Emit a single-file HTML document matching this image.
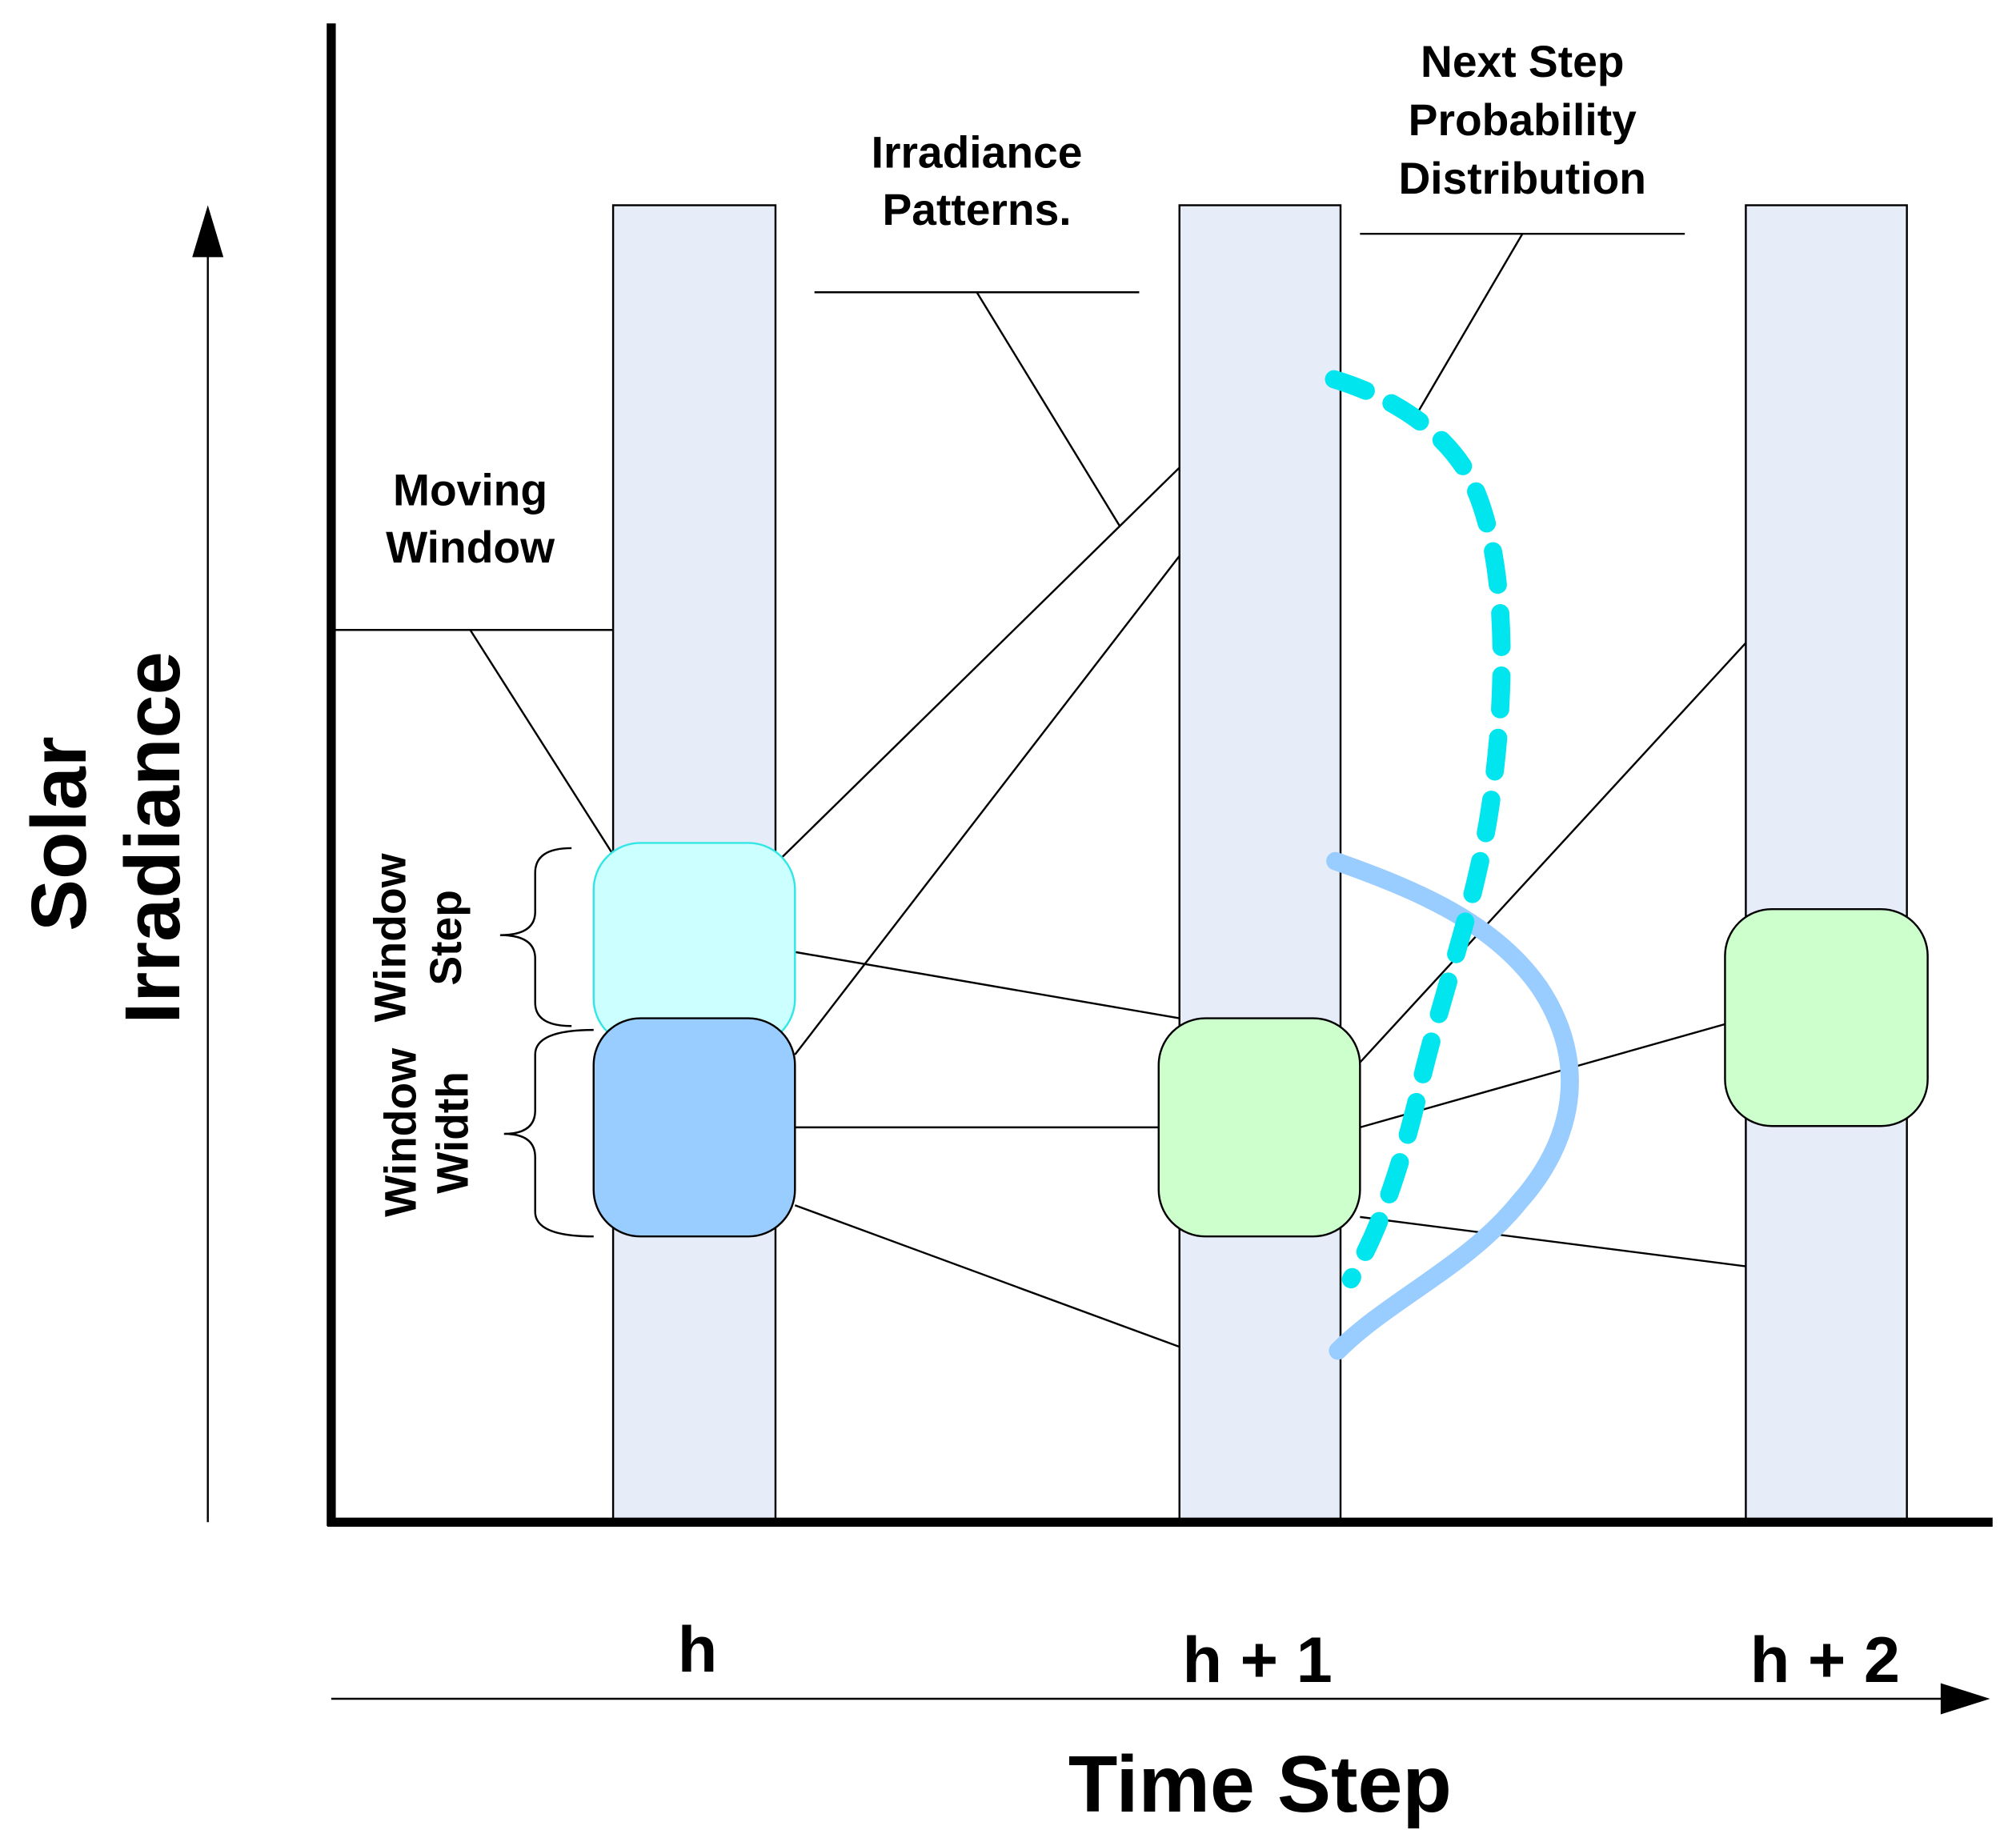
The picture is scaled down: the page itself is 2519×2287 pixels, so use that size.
<!DOCTYPE html>
<html><head><meta charset="utf-8"><style>html,body{margin:0;padding:0;background:#fff}svg{display:block}</style></head>
<body>
<svg xmlns="http://www.w3.org/2000/svg" width="2519" height="2287" viewBox="0 0 1552 1409" font-family="Liberation Sans, sans-serif" font-weight="bold">
<rect width="1552" height="1409" fill="#fff"/>
<!-- columns -->
<g fill="#e6edf8" stroke="#000" stroke-width="1.5">
<rect x="472" y="158" width="125" height="1012"/>
<rect x="908" y="158" width="124" height="1012"/>
<rect x="1344" y="158" width="124" height="1012"/>
</g>
<!-- axes -->
<line x1="255" y1="18" x2="255" y2="1175" stroke="#000" stroke-width="7"/>
<line x1="252" y1="1172" x2="1534" y2="1172" stroke="#000" stroke-width="7"/>
<!-- arrows -->
<line x1="160" y1="1172" x2="160" y2="190" stroke="#000" stroke-width="1.5"/>
<polygon points="160,158 148,198 172,198" fill="#000"/>
<line x1="255" y1="1308" x2="1500" y2="1308" stroke="#000" stroke-width="1.5"/>
<polygon points="1532,1308 1494,1296 1494,1320" fill="#000"/>
<!-- connector lines -->
<g stroke="#000" stroke-width="1.5" fill="none">
<line x1="597" y1="665" x2="908" y2="360"/>
<line x1="612" y1="812" x2="908" y2="428"/>
<line x1="612" y1="733" x2="908" y2="784"/>
<line x1="612" y1="868" x2="892" y2="868"/>
<line x1="612" y1="928" x2="908" y2="1037"/>
<line x1="1047" y1="818" x2="1344" y2="495"/>
<line x1="1047" y1="868" x2="1344" y2="784"/>
<line x1="1047" y1="937" x2="1344" y2="975"/>
<!-- callouts -->
<line x1="258" y1="485" x2="472" y2="485"/>
<line x1="362" y1="485" x2="472" y2="658"/>
<line x1="627" y1="225" x2="877" y2="225"/>
<line x1="752" y1="225" x2="862" y2="405"/>
<line x1="1047" y1="180" x2="1297" y2="180"/>
<line x1="1172" y1="180" x2="1090" y2="320"/>
<!-- braces -->
<path d="M440,653 Q412,653 412,672 L412,702 Q412,720 385,720 Q412,720 412,738 L412,772 Q412,790 440,790"/>
<path d="M457,793 Q412,793 412,812 L412,855 Q412,873 388,873 Q412,873 412,891 L412,933 Q412,952 457,952"/>
</g>
<!-- boxes -->
<rect x="457" y="649" width="155" height="156" rx="36" fill="#ccffff" stroke="#33e6e6" stroke-width="1.5"/>
<rect x="457" y="784" width="155" height="168" rx="36" fill="#99ccff" stroke="#000" stroke-width="1.5"/>
<rect x="892" y="784" width="155" height="168" rx="36" fill="#ccffcc" stroke="#000" stroke-width="1.5"/>
<rect x="1328" y="700" width="156" height="167" rx="36" fill="#ccffcc" stroke="#000" stroke-width="1.5"/>
<!-- curves -->
<path d="M1028,663 C1090,685 1150,710 1185,760 C1225,820 1210,880 1170,925 C1130,975 1070,1000 1030,1040" fill="none" stroke="#99ccff" stroke-width="14" stroke-linecap="round"/>
<path d="M1027,292 C1070,305 1110,330 1130,365 C1160,420 1160,520 1150,600 C1140,690 1110,760 1090,850 C1075,910 1060,950 1040,985" fill="none" stroke="#00e5ee" stroke-width="14" stroke-dasharray="26,22" stroke-linecap="round"/>
<!-- texts -->
<g text-anchor="middle" fill="#000" font-size="34">
<text x="362" y="389">Moving</text>
<text x="362" y="433">Window</text>
<text x="752" y="129">Irradiance</text>
<text x="752" y="173">Patterns.</text>
<text x="1172" y="59">Next Step</text>
<text x="1172" y="104">Probability</text>
<text x="1172" y="149">Distribution</text>
<text transform="translate(312,722) rotate(-90)">Window</text>
<text transform="translate(355,722) rotate(-90)">Step</text>
<text transform="translate(320,872) rotate(-90)">Window</text>
<text transform="translate(360,872) rotate(-90)">Width</text>
</g>
<g text-anchor="middle" fill="#000">
<text x="537" y="1287" font-size="50">h</text>
<text x="968" y="1295" font-size="50">h + 1</text>
<text x="1405" y="1295" font-size="50">h + 2</text>
<text x="970" y="1395" font-size="62">Time Step</text>
<text transform="translate(66,642) rotate(-90)" font-size="60">Solar</text>
<text transform="translate(138,645) rotate(-90)" font-size="60">Irradiance</text>
</g>
</svg>
</body></html>
